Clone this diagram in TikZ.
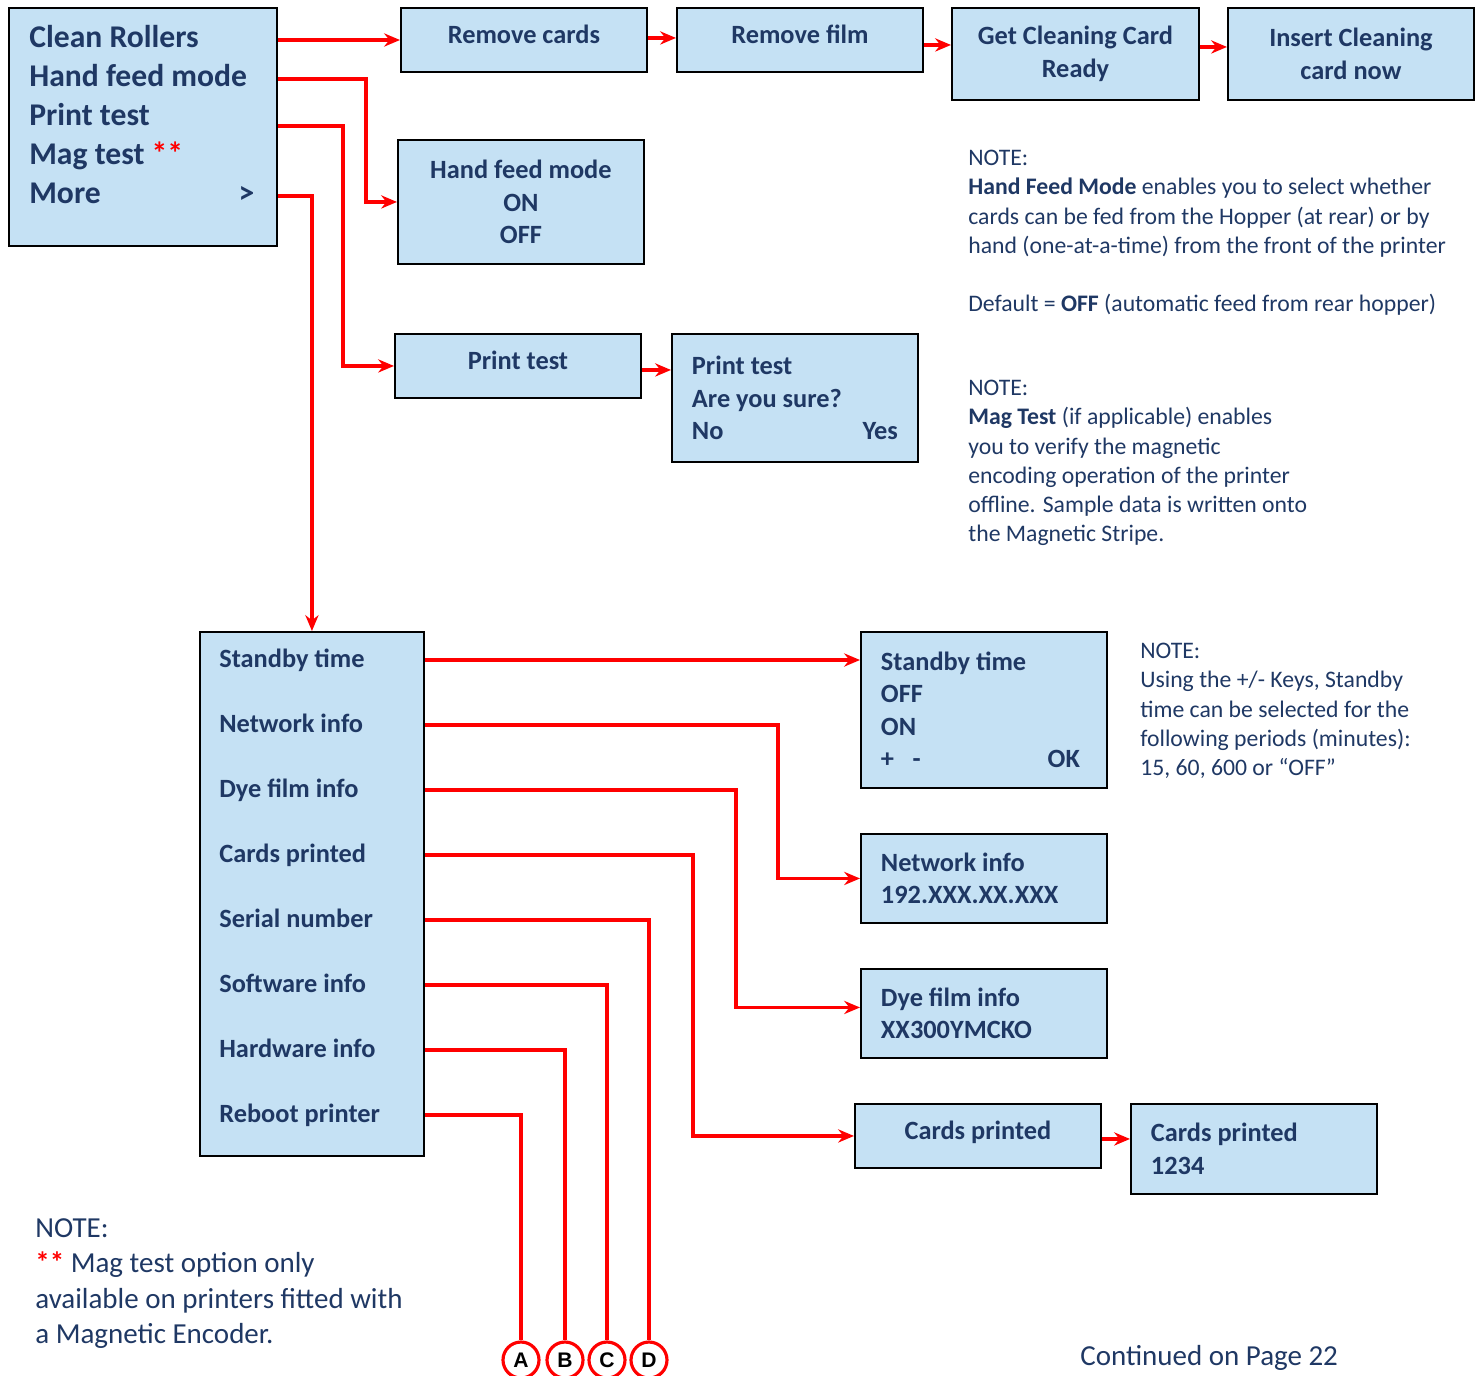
\documentclass[tikz,border=0pt]{standalone}
\usepackage{fontspec}
\setmainfont{Carlito}
\newfontfamily\circfont{Liberation Sans}
\usetikzlibrary{arrows.meta}
\definecolor{menublue}{RGB}{197,225,244}
\definecolor{inkblue}{RGB}{31,56,100}
\definecolor{linkred}{RGB}{255,0,0}
\newcommand\menufont{\fontsize{18}{22}\selectfont\bfseries}
\newcommand\itemfont{\fontsize{15}{18.4}\selectfont\bfseries}
\newcommand\notefont{\fontsize{13.5}{16.6}\selectfont}
\newcommand\bignotefont{\fontsize{16.5}{20.2}\selectfont}
\tikzset{
  screen/.style={draw=black, line width=1.1pt, fill=menublue, anchor=north west, inner sep=0pt,
    minimum width=4.92cm, text=inkblue, font=\itemfont, align=center},
  leftscreen/.style={screen, text width=4.12cm, align=flush left},
  lift/.style={text height=11pt, text depth=7pt},
  entry/.style={anchor=west, inner sep=0pt, text=inkblue, text height=11pt, text depth=3pt, font=\itemfont},
  menuentry/.style={entry, text height=13pt, text depth=4pt, font=\menufont},
  link/.style={draw=linkred, line width=2pt, -{Stealth[length=9pt,width=7.5pt]}},
  wire/.style={draw=linkred, line width=2pt},
  note/.style={anchor=north west, inner sep=0pt, align=left, text=inkblue, font=\notefont},
  letter/.style={circle, draw=linkred, line width=1.8pt, fill=white, minimum size=0.72cm, inner sep=0pt,
    font=\circfont\bfseries\fontsize{12}{12}\selectfont}
}
\begin{document}
\begin{tikzpicture}[x=0.02cm, y=-0.02cm]
\useasboundingbox (0,0) rectangle (1481,1376);

% main menu
\node[screen, minimum width=5.36cm, minimum height=4.76cm] (main) at (8,7) {};
\node[menuentry] (mi1) at (29,40) {Clean Rollers};
\node[menuentry] (mi2) at (29,79) {Hand feed mode};
\node[menuentry] (mi3) at (29,118) {Print test};
\node[menuentry] (mi4) at (29,157) {Mag test \textcolor{linkred}{**}};
\node[menuentry, text width=4.5cm] (mi5) at (29,196) {More\hfill >};

% clean rollers row
\node[screen, lift, minimum height=1.28cm] (rmcards) at (400,7) {Remove cards};
\node[screen, lift, minimum height=1.28cm] (rmfilm) at (676,7) {Remove film};
\node[screen, minimum width=4.94cm, minimum height=1.84cm] (getcard) at (951,7) {Get Cleaning Card\\Ready};
\node[screen, minimum height=1.84cm] (insert) at (1227,7) {Insert Cleaning\\card now};

\node[screen, minimum height=2.48cm] (handfeed) at (397,139) {Hand feed mode\\ON\\OFF};
\node[screen, lift, minimum height=1.28cm] (ptest) at (394,333) {Print test};
\node[leftscreen, minimum height=2.56cm] (psure) at (671,333) {Print test\\Are you sure?\\No\hfill Yes};

% more menu
\node[screen, minimum width=4.48cm, minimum height=10.48cm] (more) at (199,631) {};
\node[entry] (s1) at (219,660) {Standby time};
\node[entry] (s2) at (219,725) {Network info};
\node[entry] (s3) at (219,790) {Dye film info};
\node[entry] (s4) at (219,855) {Cards printed};
\node[entry] (s5) at (219,920) {Serial number};
\node[entry] (s6) at (219,985) {Software info};
\node[entry] (s7) at (219,1050) {Hardware info};
\node[entry] (s8) at (219,1115) {Reboot printer};

\node[leftscreen, minimum height=3.12cm] (standby) at (860,631) {Standby time\\OFF\\ON\\+\hspace{0.7em}-\hfill OK\hspace*{0.14cm}};
\node[leftscreen, minimum height=1.78cm] (netinfo) at (860,833) {Network info\\192.XXX.XX.XXX};
\node[leftscreen, minimum height=1.78cm] (dyeinfo) at (860,968) {Dye film info\\XX300YMCKO};
\node[screen, lift, minimum height=1.28cm] (cardsp) at (854,1103) {Cards printed};
\node[leftscreen, minimum height=1.80cm] (cardsn) at (1130,1103) {Cards printed\\1234};

\node[letter] (cA) at (521,1360) {A};
\node[letter] (cB) at (565,1360) {B};
\node[letter] (cC) at (607,1360) {C};
\node[letter] (cD) at (649,1360) {D};

% connectors
\draw[link] (main.east |- mi1) -- (rmcards.west |- mi1);
\draw[link] (rmcards.east) ++(0,-2) coordinate (r1) -- (r1 -| rmfilm.west);
\draw[link] (rmfilm.east) ++(0,5) coordinate (r2) -- (r2 -| getcard.west);
\draw[link] (getcard.east) ++(0,-7) coordinate (r3) -- (r3 -| insert.west);
\draw[link] (main.east |- mi2) -- ++(88,0) |- (handfeed.west);
\draw[link] (main.east |- mi3.base) -- ++(65,0) |- (ptest.west);
\draw[link] (ptest.east) ++(0,4) coordinate (r4) -- (r4 -| psure.west);
\draw[link] (main.east |- mi5) -| (more.north);

\draw[link] (more.east |- s1) -- (standby.west |- s1);
\draw[link] (more.east |- s2) -- ++(353,0) |- (netinfo.west);
\draw[link] (more.east |- s3) -- ++(311,0) |- ([yshift=0.12cm]dyeinfo.west);
\draw[link] (more.east |- s4) -- ++(268,0) |- (cardsp.west);
\draw[link] (cardsp.east) ++(0,3) coordinate (r5) -- (r5 -| cardsn.west);
\draw[wire] (more.east |- s5) -| (cD.north);
\draw[wire] (more.east |- s6) -| (cC.north);
\draw[wire] (more.east |- s7) -| (cB.north);
\draw[wire] (more.east |- s8) -| (cA.north);

% notes
\node[note] (n1) at (968,150) {NOTE:\\
\textbf{Hand Feed Mode} enables you to select whether\\
cards can be fed from the Hopper (at rear) or by\\
hand (one-at-a-time) from the front of the printer\\[16.6pt]
Default = \textbf{OFF} (automatic feed from rear hopper)};
\node[note] (n2) at (968,380) {NOTE:\\
\textbf{Mag Test} (if applicable) enables\\
you to verify the magnetic\\
encoding operation of the printer\\
offline. Sample data is written onto\\
the Magnetic Stripe.};
\node[note] (n3) at (1140,643) {NOTE:\\
Using the +/- Keys, Standby\\
time can be selected for the\\
following periods (minutes):\\
15, 60, 600 or “OFF”};
\node[note, font=\bignotefont] (n4) at (35,1218) {NOTE:\\
\textcolor{linkred}{\textbf{**}} Mag test option only\\
available on printers fitted with\\
a Magnetic Encoder.};
\node[note, font=\bignotefont, anchor=west] (cont) at (1080,1358) {Continued on Page 22};
\end{tikzpicture}
\end{document}
